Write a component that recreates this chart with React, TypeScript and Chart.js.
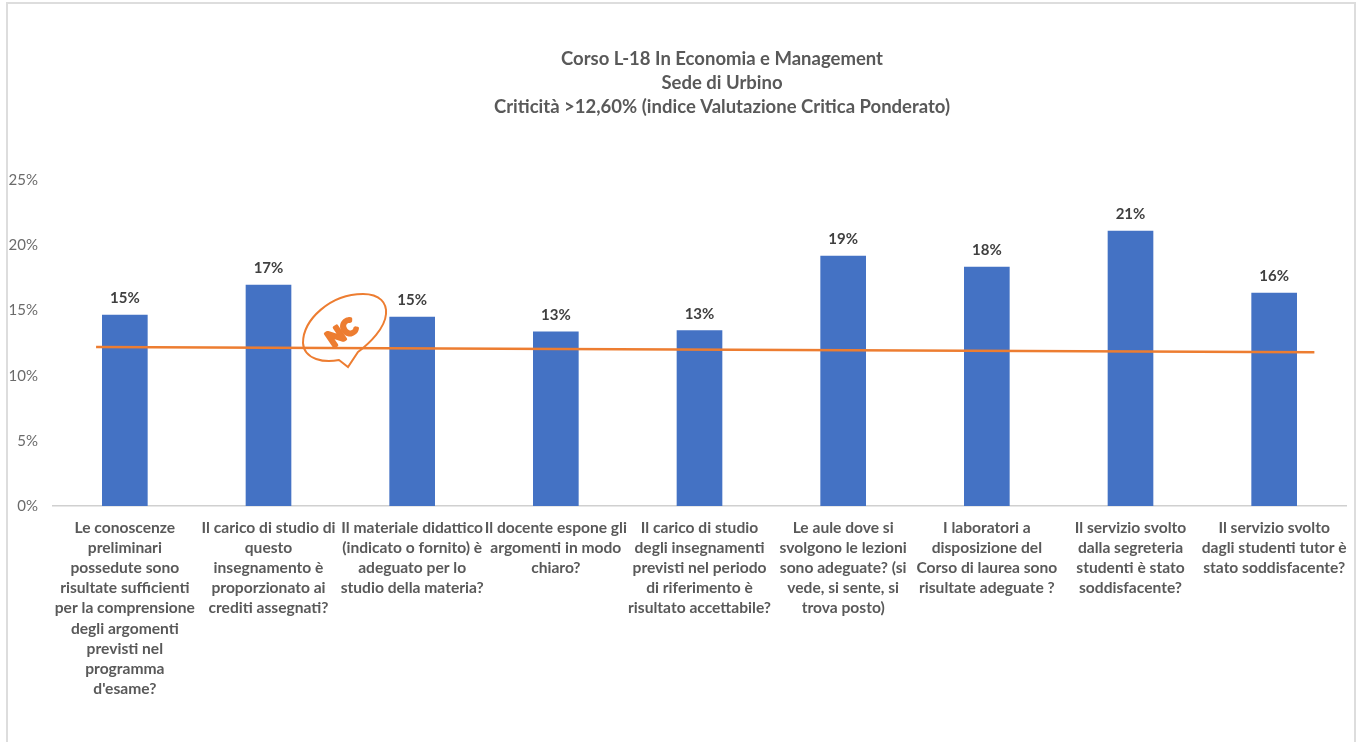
import React, { useEffect, useRef } from "react";
import { Chart, registerables } from "chart.js";

Chart.register(...registerables);

const categories: string[][] = [
  ["Le conoscenze", "preliminari", "possedute sono", "risultate sufficienti", "per la comprensione", "degli argomenti", "previsti nel", "programma", "d'esame?"],
  ["Il carico di studio di", "questo", "insegnamento è", "proporzionato ai", "crediti assegnati?"],
  ["Il materiale didattico", "(indicato o fornito) è", "adeguato per lo", "studio della materia?"],
  ["Il docente espone gli", "argomenti in modo", "chiaro?"],
  ["Il carico di studio", "degli insegnamenti", "previsti nel periodo", "di riferimento è", "risultato accettabile?"],
  ["Le aule dove si", "svolgono le lezioni", "sono adeguate? (si", "vede, si sente, si", "trova posto)"],
  ["I laboratori a", "disposizione del", "Corso di laurea sono", "risultate adeguate ?"],
  ["Il servizio svolto", "dalla segreteria", "studenti è stato", "soddisfacente?"],
  ["Il servizio svolto", "dagli studenti tutor è", "stato soddisfacente?"],
];
const barValues = [14.65, 16.95, 14.5, 13.37, 13.45, 19.17, 18.33, 21.1, 16.33];
const trendPoints = [
  { x: -0.2, y: 12.2 },
  { x: 8.28, y: 11.8 },
];
const titleLines = [
  "Corso L-18 In Economia e Management",
  "Sede di Urbino",
  "Criticità >12,60% (indice Valutazione Critica Ponderato)",
];

const FONT = "Lato, Carlito, 'Open Sans', sans-serif";
const GREY = "#595959";
const BLUE = "#4472C4";
const ORANGE = "#ED7D31";

const barLabels = {
  id: "barLabels",
  afterDatasetsDraw(chart: any) {
    const meta = chart.getDatasetMeta(1);
    const ctx = chart.ctx;
    ctx.save();
    ctx.font = `bold 15px ${FONT}`;
    ctx.fillStyle = "#404040";
    ctx.textAlign = "center";
    ctx.textBaseline = "alphabetic";
    meta.data.forEach((el: any, i: number) => {
      ctx.fillText(`${Math.round(barValues[i])}%`, el.x, el.y - 12);
    });
    ctx.restore();
  },
};

const noteBubble = {
  id: "noteBubble",
  afterDatasetsDraw(chart: any) {
    const ctx = chart.ctx;
    ctx.save();
    ctx.strokeStyle = ORANGE;
    ctx.lineWidth = 2;
    ctx.stroke(new Path2D("M 339 360 C 325 363 304 360 303 343 C 303 320 330 294 363 294 C 380 294 387 303 386 314 C 385 328 370 343 358 352 L 348 367 Z"));
    ctx.translate(342, 333);
    ctx.rotate(-0.6);
    ctx.font = `900 22px ${FONT}`;
    ctx.fillStyle = ORANGE;
    ctx.lineWidth = 3;
    ctx.lineJoin = "round";
    ctx.textAlign = "center";
    ctx.textBaseline = "middle";
    ctx.strokeText("NC", 0, 0);
    ctx.fillText("NC", 0, 0);
    ctx.restore();
  },
};

const shiftTitle = {
  id: "shiftTitle",
  afterLayout(chart: any) {
    if (chart.titleBlock) chart.titleBlock.left = 98;
  },
};

export default function App() {
  const ref = useRef<HTMLCanvasElement>(null);

  useEffect(() => {
    if (!ref.current) return;
    const chart = new Chart(ref.current, {
      data: {
        labels: categories,
        datasets: [
          {
            type: "line",
            data: trendPoints,
            xAxisID: "xLine",
            borderColor: ORANGE,
            borderWidth: 2.5,
            pointRadius: 0,
            order: 0,
          },
          {
            type: "bar",
            data: barValues,
            backgroundColor: BLUE,
            barThickness: 45,
            grouped: false,
            order: 1,
          },
        ],
      } as any,
      options: {
        animation: false,
        responsive: false,
        layout: { padding: { left: 0, right: 10, top: 0, bottom: 0 } },
        plugins: {
          legend: { display: false },
          tooltip: { enabled: false },
          title: {
            display: true,
            text: titleLines,
            color: GREY,
            font: { family: FONT, size: 18.5, weight: "bold", lineHeight: 1.3 },
            padding: { top: 47, bottom: 61 },
          },
        },
        scales: {
          x: {
            grid: { display: false, drawTicks: false },
            border: { color: "#D0D0D0", width: 1.5 },
            ticks: {
              autoSkip: false,
              maxRotation: 0,
              minRotation: 0,
              color: GREY,
              padding: 12,
              font: { family: FONT, size: 15.6, weight: "bold", lineHeight: 1.288 },
            },
            afterFit(scale: any) {
              scale.height = 236;
              scale.paddingLeft = 0;
              scale.paddingRight = 0;
            },
          },
          xLine: {
            type: "linear",
            display: false,
            min: -0.5,
            max: 8.5,
          },
          y: {
            min: 0,
            max: 25,
            grid: { display: false, drawTicks: false },
            border: { display: false },
            ticks: {
              stepSize: 5,
              color: "#6B6B6B",
              padding: 15,
              font: { family: FONT, size: 15 },
              callback: (v: any) => `${v}%`,
            },
            afterFit(scale: any) {
              scale.width = 53;
            },
          },
        },
      } as any,
      plugins: [shiftTitle, barLabels, noteBubble],
    });
    return () => chart.destroy();
  }, []);

  return (
    <div style={{ position: "fixed", inset: 0, background: "#fff", overflow: "hidden" }}>
      <canvas ref={ref} width={1356} height={742} style={{ display: "block", width: 1356, height: 742 }} />
      <div
        style={{
          position: "absolute",
          left: 6,
          top: 2,
          width: 1346,
          height: 760,
          border: "2px solid #DDDDDD",
          pointerEvents: "none",
        }}
      />
    </div>
  );
}
